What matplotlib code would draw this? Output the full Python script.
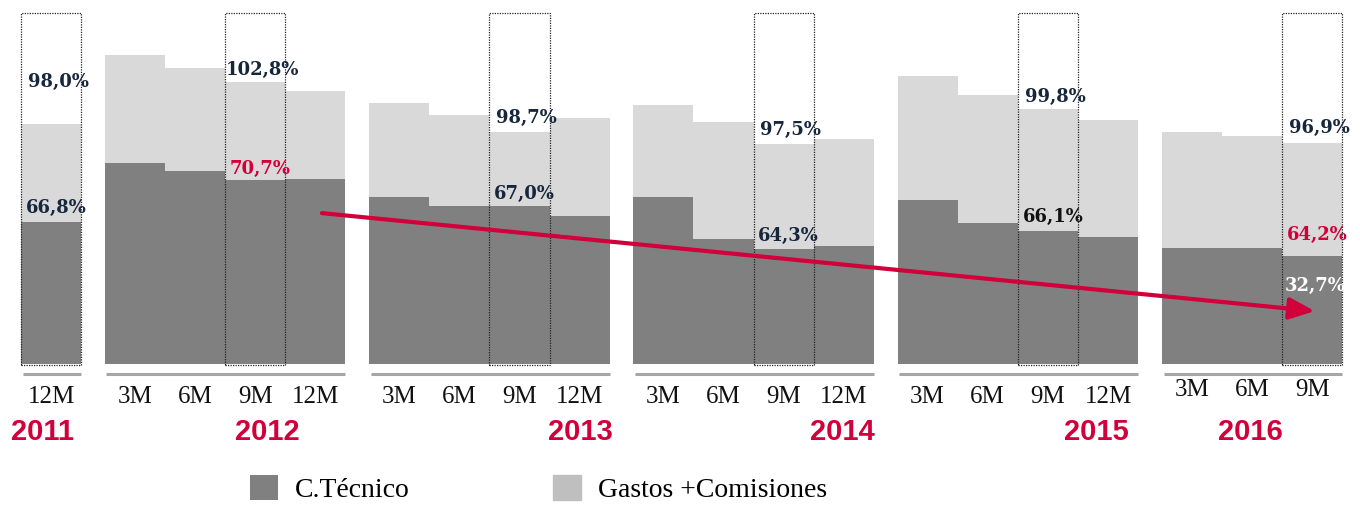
import matplotlib.pyplot as plt
from matplotlib.patches import Patch, Rectangle

# bars, left to right
years = ["2011", "2012", "2013", "2014", "2015", "2016"]
group_sizes = [1, 4, 4, 4, 4, 3]
periods = ["12M",
           "3M", "6M", "9M", "12M",
           "3M", "6M", "9M", "12M",
           "3M", "6M", "9M", "12M",
           "3M", "6M", "9M", "12M",
           "3M", "6M", "9M"]
# heights (axis starts at ~22%)
tecnico = [67.4,
           86.2, 83.7, 80.8, 81.1,
           75.4, 72.5, 72.5, 69.3,
           75.4, 61.9, 58.7, 59.7,
           74.4, 67.0, 64.5, 62.6,
           59.1, 59.1, 56.5]
combinado = [98.7,
             120.7, 116.6, 112.1, 109.2,
             105.4, 101.6, 96.1, 100.6,
             104.7, 99.3, 92.3, 93.9,
             114.0, 107.9, 103.5, 100.0,
             96.1, 94.8, 92.6]

# highlighted bars and their labels
highlight = [0, 3, 7, 11, 15, 19]
combinado_labels = ["98,0%", "102,8%", "98,7%", "97,5%", "99,8%", "96,9%"]
tecnico_labels = ["66,8%", "70,7%", "67,0%", "64,3%", "66,1%", "64,2%"]
gastos_label = "32,7%"

BASE = 22
DARK = "#808080"
LIGHT = "#d9d9d9"
RED = "#d1003a"
NAVY = "#16263b"

# x positions: bars touch inside a year, small gap between years
gap = 0.39
xs, group_span = [], []
pos = 0.0
for n in group_sizes:
    start = pos
    for i in range(n):
        xs.append(pos + 0.5)
        pos += 1
    group_span.append((start, pos))
    pos += gap

fig = plt.figure(figsize=(13.6, 5.07), dpi=100)
ax = fig.add_axes([0, 0, 1, 1])
ax.set_xlim(-21 / 60.2, (1360 - 21) / 60.2)
ax.set_ylim(BASE - (507 - 364) / 3.13, BASE + 364 / 3.13)
ax.axis("off")

gastos = [c - t for c, t in zip(combinado, tecnico)]
b1 = ax.bar(xs, [t - BASE for t in tecnico], bottom=BASE, width=1.0,
            color=DARK, label="C.Técnico")
ax.bar(xs, gastos, bottom=tecnico, width=1.0, color=LIGHT)
# legend patch is a bit darker than the bars
leg_light = Patch(color="#bfbfbf", label="Gastos +Comisiones")

# dotted boxes around highlighted bars
for i in highlight:
    ax.add_patch(Rectangle((xs[i] - 0.5, BASE - 0.3), 1.0, 134.5 - BASE,
                           fill=False, ec="#222222", lw=0.9,
                           ls=(0, (1, 1)), zorder=3))

# value labels
lab_font = dict(family="DejaVu Serif", weight="bold", fontsize=13)
comb_pad = [10.5, 1.0, 1.5, 1.5, 1.0, 1.8]
tec_pad = [1.5, 0.5, 1.0, 1.2, 1.5, 4.0]
tec_colors = [NAVY, RED, NAVY, NAVY, "#111111", RED]
for k, i in enumerate(highlight):
    ax.text(xs[i] + 0.12, combinado[i] + comb_pad[k], combinado_labels[k],
            ha="center", va="bottom", color=NAVY, zorder=4, **lab_font)
    ax.text(xs[i] + 0.08, tecnico[i] + tec_pad[k], tecnico_labels[k],
            ha="center", va="bottom", color=tec_colors[k], zorder=4, **lab_font)
ax.text(xs[19] + 0.05, tecnico[19] - 9.5, gastos_label, ha="center",
        va="center", color="white", zorder=4, **lab_font)

# group underlines, period labels and years
year_offset = [-0.15, 0.7, 1.51, 1.47, 1.31, -0.03]
for g, (s, e) in enumerate(group_span):
    ax.plot([s + 0.03, e], [BASE - 3.2, BASE - 3.2], color="#a6a6a6",
            lw=2.2, solid_capstyle="butt")
    ax.text((s + e) / 2 + year_offset[g], BASE - 21.7, years[g], ha="center",
            va="center", color=RED, fontsize=21, weight="bold",
            family="Liberation Sans")
for i, x in enumerate(xs):
    y = BASE - 10.6 if i < 17 else BASE - 8.3
    ax.text(x, y, periods[i], ha="center", va="center", fontsize=18,
            family="Liberation Serif", color="#111111")

# trend arrow from 2012 to 2016
ax.annotate("", xy=(xs[19] + 0.04, 38.9), xytext=(xs[4] + 0.11, 70.2),
            arrowprops=dict(arrowstyle="-|>,head_length=0.7,head_width=0.3",
                            color=RED, lw=3, mutation_scale=22,
                            shrinkA=0, shrinkB=0), zorder=5)

fig.legend(handles=[b1, leg_light], loc="upper left", ncol=2,
           bbox_to_anchor=(250 / 1360, 1 - 475 / 507),
           frameon=False, borderpad=0, borderaxespad=0,
           handlelength=1.0, handleheight=1.0, handletextpad=0.6,
           columnspacing=5.18,
           prop=dict(family="Liberation Serif", size=20))

fig.savefig("out.png", dpi=100)
